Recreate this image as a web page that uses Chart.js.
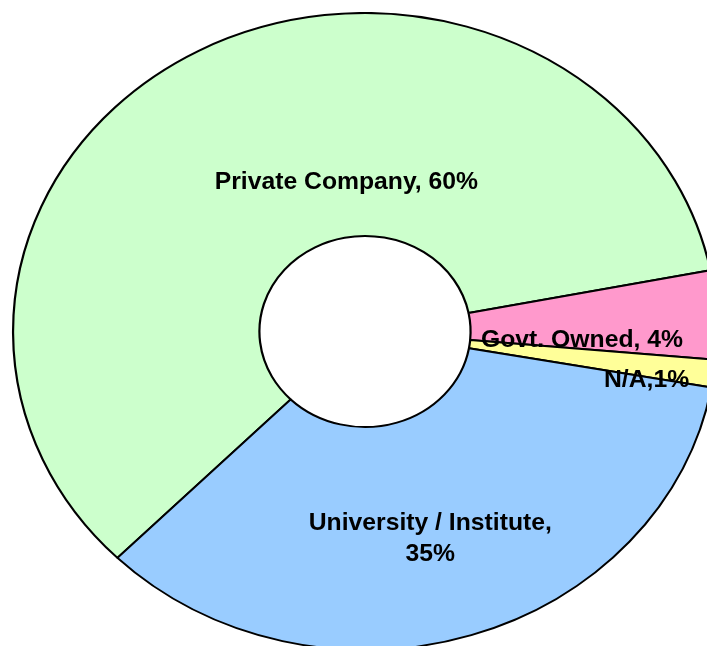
<!DOCTYPE html>
<html lang="en">
  <head>
    <meta charset="UTF-8">
    <title>Organisation type</title>
    <script src="https://cdn.jsdelivr.net/npm/chart.js@4"></script>
    <style>
      html, body { margin: 0; padding: 0; overflow: hidden; background: #fff; }
      #chart { position: absolute; left: 0; top: 12px; }
    </style>
  </head>
  <body>
    <canvas id="chart" width="730" height="639"></canvas>
    <script type="text/javascript">
      // slices, clockwise from the Private Company / University border
      const categories = ['Private Company', 'Govt. Owned', 'N/A', 'University / Institute']
      const shares = [59.5, 4.5, 1.4, 34.6]
      const sliceLabels = [
        ['Private Company, 60%'],
        ['Govt. Owned, 4%'],
        ['N/A,1%'],
        ['University / Institute,', '35%']
      ]
      const colors = ['#CCFFCC', '#FF99CC', '#FFFF99', '#99CCFF']
      // label shift from the middle of the ring, as a fraction of the outer radius
      const labelShift = [[0.281, 0.105], [-0.036, 0.063], [0.172, 0.066], [-0.012, 0.032]]

      // the original picture is stretched sideways (text a little too)
      const stretchX = 1.105
      const textStretchX = 1.03

      const stretch = {
        id: 'stretch',
        beforeDatasetsDraw(chart) {
          const arc = chart.getDatasetMeta(0).data[0]
          const ctx = chart.ctx
          ctx.save()
          ctx.translate(arc.x, 0)
          ctx.scale(stretchX, 1)
          ctx.translate(-arc.x, 0)
        },
        afterDatasetsDraw(chart) {
          chart.ctx.restore()
        }
      }

      const sliceText = {
        id: 'sliceText',
        afterDraw(chart) {
          const ctx = chart.ctx
          ctx.font = 'bold 24px "Liberation Sans", Arial, sans-serif'
          ctx.fillStyle = '#000'
          ctx.textAlign = 'center'
          ctx.textBaseline = 'middle'
          chart.getDatasetMeta(0).data.forEach((arc, i) => {
            const p = arc.getProps(['x', 'y', 'startAngle', 'endAngle', 'innerRadius', 'outerRadius'], true)
            const mid = (p.startAngle + p.endAngle) / 2
            const rm = (p.innerRadius + p.outerRadius) / 2
            const x = p.x + stretchX * rm * Math.cos(mid) + labelShift[i][0] * p.outerRadius
            const y = p.y + rm * Math.sin(mid) + labelShift[i][1] * p.outerRadius
            const lines = sliceLabels[i]
            const lh = 31
            ctx.save()
            ctx.translate(x, y)
            ctx.scale(textStretchX, 1)
            lines.forEach((t, k) => {
              ctx.fillText(t, 0, (k - (lines.length - 1) / 2) * lh)
            })
            ctx.restore()
          })
        }
      }

      const ctx = document.getElementById('chart').getContext('2d')
      new Chart(ctx, {
        type: 'doughnut',
        data: {
          labels: categories,
          datasets: [{
            data: shares,
            backgroundColor: colors,
            borderColor: '#000000',
            borderWidth: 2,
            hoverOffset: 0
          }]
        },
        options: {
          responsive: false,
          animation: false,
          cutout: '30%',
          rotation: -135.3,
          layout: { padding: 0 },
          plugins: {
            legend: { display: false },
            tooltip: { enabled: false }
          }
        },
        plugins: [stretch, sliceText]
      })
    </script>
  </body>
</html>
